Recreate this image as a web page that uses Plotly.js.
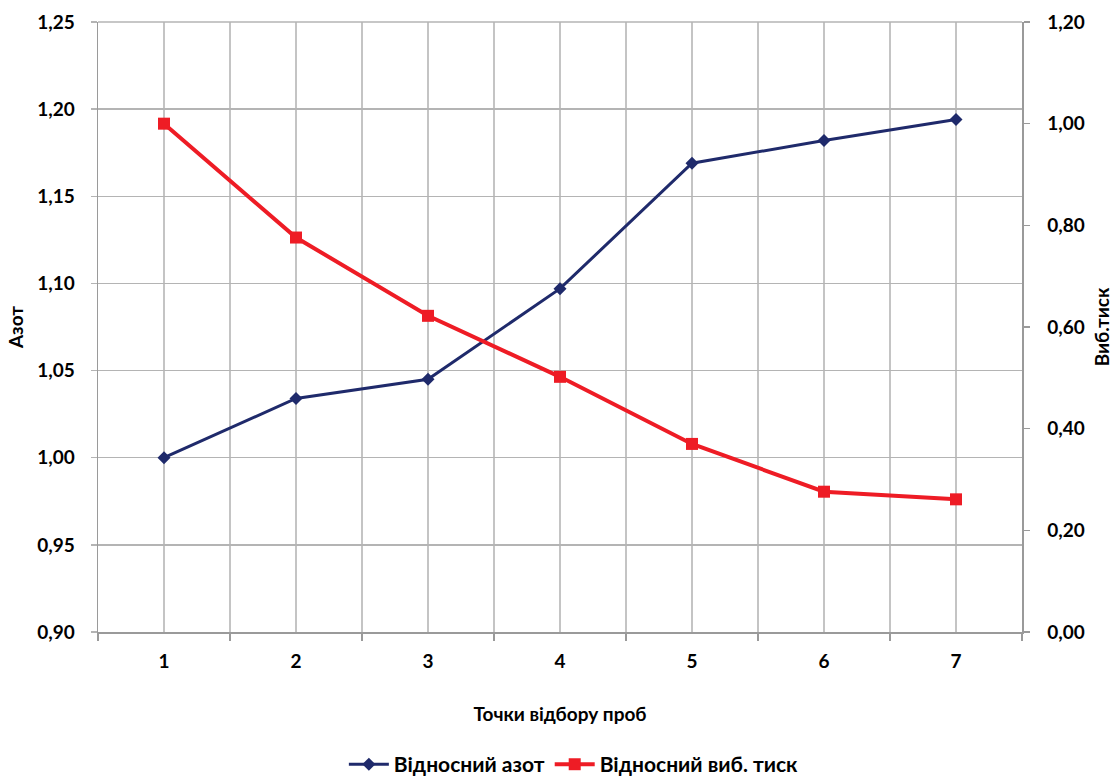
<!DOCTYPE html>
<html>
<head>
<meta charset="utf-8">
<script src="https://cdn.plot.ly/plotly-3.0.1.min.js"></script>
<style>html,body{margin:0;padding:0;background:#fff;}#chart{width:1116px;height:777px;}</style>
</head>
<body>
<div id="chart"></div>
<script>
var categories = [1, 2, 3, 4, 5, 6, 7];
var nitrogen = [1.000, 1.034, 1.045, 1.097, 1.169, 1.182, 1.194];
var pressure = [1.000, 0.776, 0.622, 0.502, 0.370, 0.276, 0.261];
var leftTicks = [0.90, 0.95, 1.00, 1.05, 1.10, 1.15, 1.20, 1.25];
var rightTicks = [0, 0.2, 0.4, 0.6, 0.8, 1.0, 1.2];

var font = "Lato, 'Open Sans', sans-serif";
var traces = [
  {x: categories, y: nitrogen, name: 'Відносний азот', type: 'scatter', mode: 'lines+markers',
   line: {color: '#1f2a6b', width: 3}, marker: {symbol: 'diamond', size: 10, color: '#1f2a6b'}, yaxis: 'y'},
  {x: categories, y: pressure, name: 'Відносний виб. тиск', type: 'scatter', mode: 'lines+markers',
   line: {color: '#ee1c25', width: 4}, marker: {symbol: 'square', size: 12, color: '#ee1c25'}, yaxis: 'y2'}
];
var layout = {
  width: 1116, height: 777,
  margin: {l: 98, r: 94, t: 22, b: 145, autoexpand: false},
  paper_bgcolor: '#fff', plot_bgcolor: '#fff',
  separators: ', ',
  font: {family: font, size: 19, color: '#000', weight: 'bold'},
  showlegend: true,
  legend: {orientation: 'h', x: 0.515, xanchor: 'center', yref: 'container', y: 0.016, yanchor: 'middle',
           font: {family: font, size: 21, weight: 'bold'}, itemwidth: 40, tracegroupgap: 0},
  xaxis: {range: [0.5, 7.5], tickvals: categories, ticktext: categories.map(String),
          showgrid: true, gridcolor: '#c4c4c4', gridwidth: 1.5,
          showline: true, linecolor: '#9a9a9a', linewidth: 1.5, ticks: '', zeroline: false,
          ticklabelstandoff: 12,
          tickfont: {family: font, size: 19, weight: 'bold'},
          minor: {tick0: 0.5, dtick: 1, showgrid: true, gridcolor: '#c4c4c4', gridwidth: 1.5,
                  ticks: 'outside', ticklen: 7, tickcolor: '#9a9a9a', tickwidth: 1.5},
          title: {text: 'Точки відбору проб', standoff: 36, font: {family: font, size: 19, weight: 'bold'}}},
  yaxis: {range: [0.9, 1.25], tickvals: leftTicks, tickformat: '.2f',
          showgrid: true, gridcolor: '#b4b4b4', gridwidth: 1.5, zeroline: false,
          showline: true, linecolor: '#9a9a9a', linewidth: 1.5, mirror: false,
          ticks: 'outside', ticklen: 6, tickcolor: '#b4b4b4', tickwidth: 1.5, ticklabelstandoff: 12,
          tickfont: {family: font, size: 19, weight: 'bold'},
          title: {text: 'Азот', standoff: 8, font: {family: font, size: 19, weight: 'bold'}}},
  yaxis2: {range: [0, 1.2], tickvals: rightTicks, tickformat: '.2f', overlaying: 'y', side: 'right',
           showgrid: false, zeroline: false, showline: true, linecolor: '#9a9a9a', linewidth: 1.5,
           ticks: 'outside', ticklen: 6, tickcolor: '#9a9a9a', tickwidth: 1.5, ticklabelstandoff: 14,
           tickfont: {family: font, size: 19, weight: 'bold'},
           title: {text: 'Виб.тиск', standoff: 12, font: {family: font, size: 19, weight: 'bold'}}},
  shapes: [{type: 'line', xref: 'paper', yref: 'paper', x0: 0, x1: 1, y0: 1, y1: 1,
            line: {color: '#b4b4b4', width: 1.5}}]
};
Plotly.newPlot('chart', traces, layout, {displayModeBar: false, staticPlot: true});
</script>
</body>
</html>
